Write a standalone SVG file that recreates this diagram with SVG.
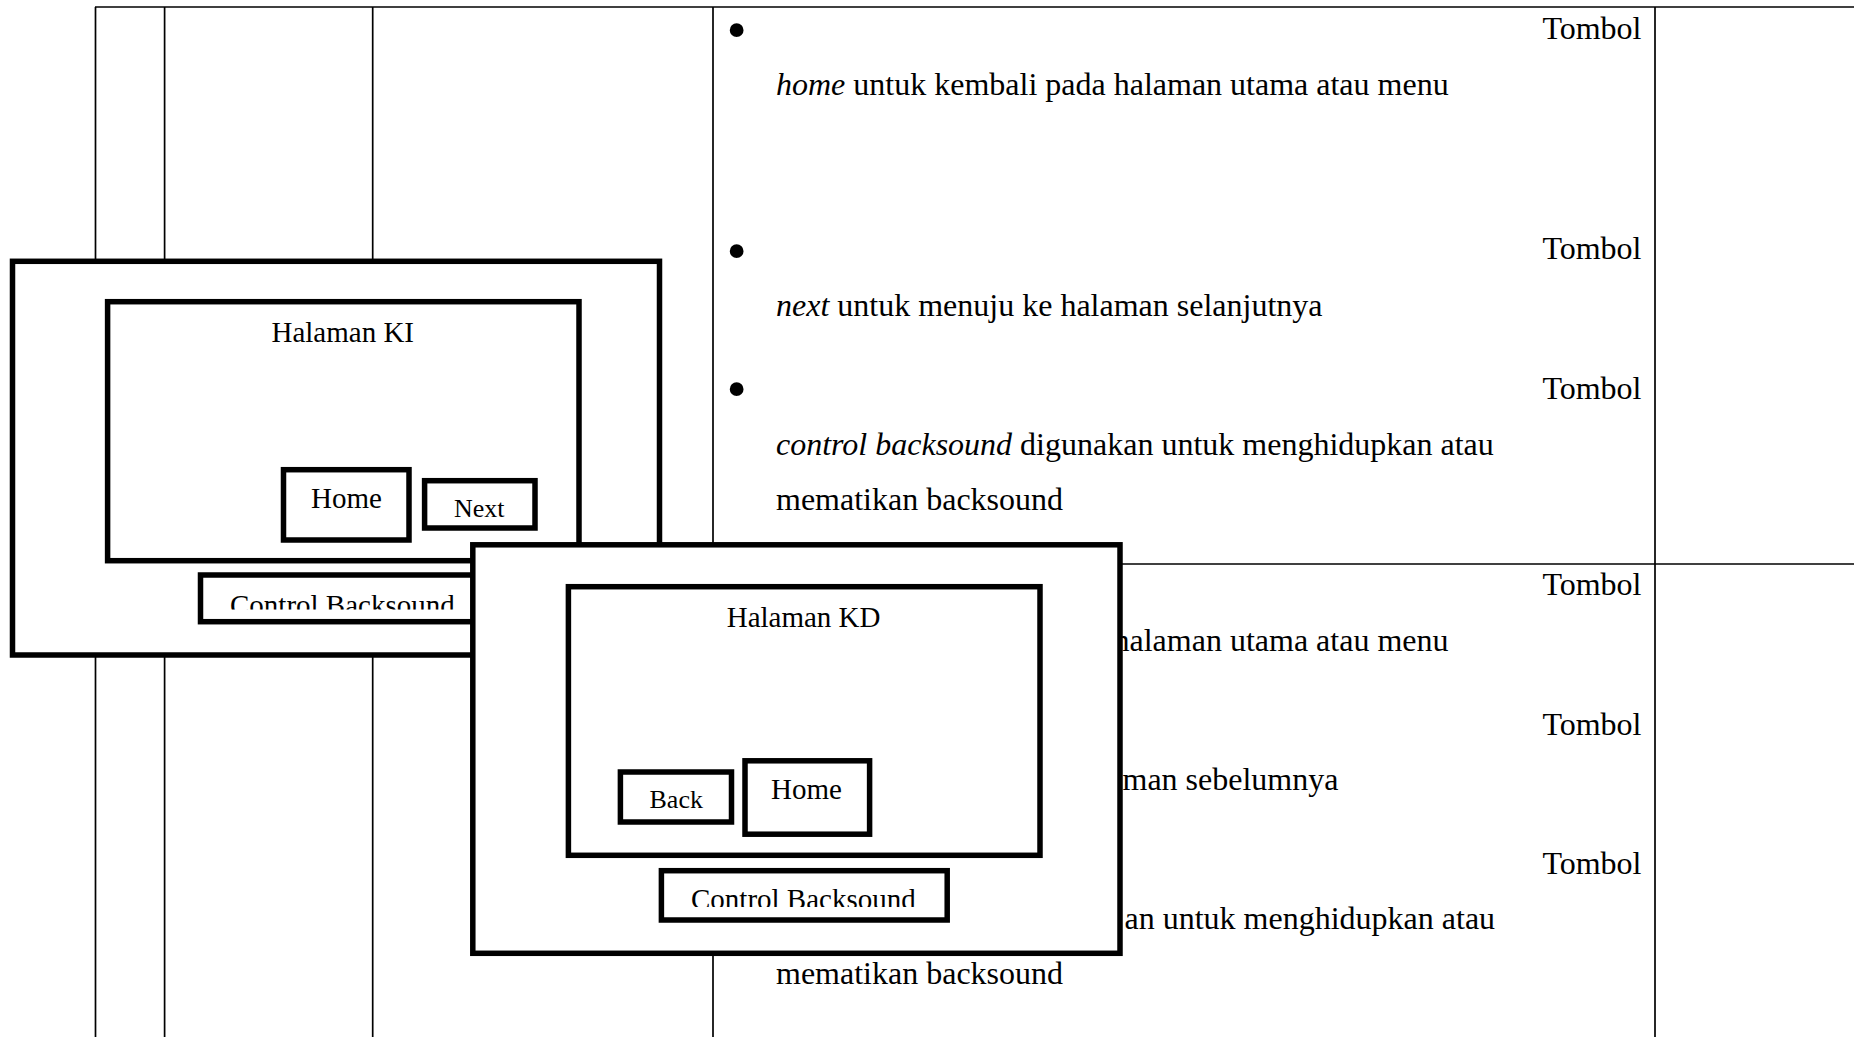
<svg xmlns="http://www.w3.org/2000/svg" width="1854" height="1037" viewBox="0 0 1854 1037">
<style>
.tl{stroke:#000;stroke-width:1.7;fill:none}
.bx{fill:#fff;stroke:#000;stroke-width:5.5}
.t{font-family:"Liberation Serif","Times New Roman",serif;fill:#000}
.d{font-size:32px}
.b29{font-size:29px}
.b26{font-size:26px}
.it{font-style:italic}
.bul{font-size:58px}
</style>
<defs>
<clipPath id="clipKI"><rect x="203" y="578" width="280" height="31.5"/></clipPath>
<clipPath id="clipKD"><rect x="664" y="873" width="280" height="34"/></clipPath>
</defs>
<rect x="0" y="0" width="1854" height="1037" fill="#fff"/>
<g id="table">
<line class="tl" x1="95" y1="7" x2="1854" y2="7"/>
<line class="tl" x1="713" y1="564" x2="1854" y2="564"/>
<line class="tl" x1="95.5" y1="7" x2="95.5" y2="1037"/>
<line class="tl" x1="164.6" y1="7" x2="164.6" y2="1037"/>
<line class="tl" x1="372.7" y1="7" x2="372.7" y2="1037"/>
<line class="tl" x1="713" y1="7" x2="713" y2="1037"/>
<line class="tl" x1="1655" y1="7" x2="1655" y2="1037"/>
</g>
<g id="descriptions" class="t d">
<text class="bul" x="726.5" y="48.5">•</text>
<text x="1641.5" y="39" text-anchor="end">Tombol</text>
<text x="776" y="94.5"><tspan class="it">home</tspan> untuk kembali pada halaman utama atau menu</text>
<text class="bul" x="726.5" y="269.5">•</text>
<text x="1641.5" y="259" text-anchor="end">Tombol</text>
<text x="776" y="316"><tspan class="it">next</tspan> untuk menuju ke halaman selanjutnya</text>
<text class="bul" x="726.5" y="408">•</text>
<text x="1641.5" y="398.5" text-anchor="end">Tombol</text>
<text x="776" y="455"><tspan class="it">control backsound</tspan> digunakan untuk menghidupkan atau</text>
<text x="776" y="510">mematikan backsound</text>
<text x="1641.5" y="595" text-anchor="end">Tombol</text>
<text x="1113.5" y="650.5">halaman utama atau menu</text>
<text x="1641.5" y="734.5" text-anchor="end">Tombol</text>
<text x="1122.5" y="790">man sebelumnya</text>
<text x="1641.5" y="874" text-anchor="end">Tombol</text>
<text x="1124.5" y="929">an untuk menghidupkan atau</text>
<text x="776" y="984">mematikan backsound</text>
</g>
<g id="halaman-ki">
<rect class="bx" x="12.5" y="261.3" width="647" height="393.7"/>
<rect class="bx" x="107.6" y="301.7" width="471.4" height="259"/>
<text class="t b29" x="271.5" y="341.7">Halaman KI</text>
<g id="ki-home">
<rect class="bx" x="283.5" y="469.7" width="125.5" height="70.3"/>
<text class="t b29" x="311" y="508.3">Home</text>
</g>
<g id="ki-next">
<rect class="bx" x="424.6" y="480.7" width="110.4" height="47.3"/>
<text class="t b26" x="454" y="516.7">Next</text>
</g>
<g id="ki-control">
<rect class="bx" x="200.5" y="575" width="285.8" height="46.7"/>
<text class="t b29" x="230" y="615.2" clip-path="url(#clipKI)">Control Backsound</text>
</g>
</g>
<g id="halaman-kd">
<rect class="bx" x="472.8" y="544.8" width="647.2" height="408.5"/>
<rect class="bx" x="568.4" y="586.7" width="471.6" height="268.6"/>
<text class="t b29" x="726.7" y="626.7">Halaman KD</text>
<g id="kd-back">
<rect class="bx" x="620.4" y="772" width="111.1" height="50"/>
<text class="t b26" x="649.5" y="808.3">Back</text>
</g>
<g id="kd-home">
<rect class="bx" x="745" y="760.8" width="124.6" height="73.4"/>
<text class="t b29" x="771" y="799.3">Home</text>
</g>
<g id="kd-control">
<rect class="bx" x="661.4" y="870.7" width="285.8" height="49.3"/>
<text class="t b29" x="691" y="909.2" clip-path="url(#clipKD)">Control Backsound</text>
</g>
</g>
</svg>
